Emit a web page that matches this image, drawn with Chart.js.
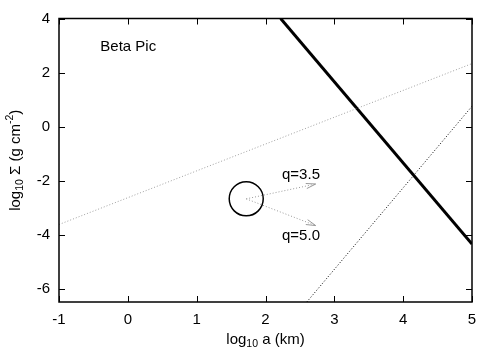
<!DOCTYPE html>
<html>
<head>
<meta charset="utf-8">
<script src="https://cdn.jsdelivr.net/npm/chart.js@4"></script>
<style>
  body { margin: 0; background: #fff; }
  #wrap { width: 498px; height: 349px; }
</style>
</head>
<body>
<div id="wrap"><canvas id="chart" width="498" height="349"></canvas></div>
<script>
// axis ticks
const xTicks = [-1, 0, 1, 2, 3, 4, 5];
const yTicks = [-6, -4, -2, 0, 2, 4];

// lines
const thickX = [2.22, 5];
const thickY = [4, -4.35];
const grayX = [-1, 5];
const grayY = [-3.63, 2.33];
const dotX = [2.6, 5];
const dotY = [-6.5, 0.75];

// circle and the two arrows leaving it
const circleX = [1.72];
const circleY = [-2.68];
const arrowLabels = ['q=3.5', 'q=5.0'];
const arrowEndX = [2.73, 2.73];
const arrowEndY = [-2.13, -3.67];

const FONT = '"Liberation Sans", Arial, sans-serif';

const pts = (xs, ys) => xs.map((x, i) => ({ x: x, y: ys[i] }));

const datasets = [
  { data: pts(grayX, grayY), borderColor: '#a0a0a0', borderWidth: 1, borderDash: [1, 2] },
  { data: pts(dotX, dotY), borderColor: '#000', borderWidth: 1, borderDash: [1, 2] },
  { data: pts(thickX, thickY), borderColor: '#000', borderWidth: 3 },
];
arrowEndX.forEach((ex, i) => {
  datasets.push({
    data: pts([circleX[0], ex], [circleY[0], arrowEndY[i]]),
    borderColor: '#999999', borderWidth: 1, borderDash: [1, 2]
  });
});
datasets.push({
  data: pts(circleX, circleY), showLine: false,
  pointRadius: 17, pointBorderWidth: 1.5, pointBorderColor: '#000',
  pointBackgroundColor: 'rgba(0,0,0,0)'
});

// draw text pieces with sub/superscripts, centred at (cx, cy)
function richText(ctx, parts, cx, cy, size) {
  let w = 0;
  parts.forEach(p => {
    ctx.font = (p.s ? size * 0.7 : size) + 'px ' + FONT;
    p.w = ctx.measureText(p.t).width;
    w += p.w;
  });
  let x = cx - w / 2;
  parts.forEach(p => {
    ctx.font = (p.s ? size * 0.7 : size) + 'px ' + FONT;
    ctx.fillText(p.t, x, cy + (p.s || 0));
    x += p.w;
  });
}

const decor = {
  id: 'decor',
  afterDatasetsDraw(chart) {
    const { ctx, chartArea: a, scales } = chart;
    const xs = scales.x, ys = scales.y;
    ctx.save();
    ctx.strokeStyle = '#000';
    ctx.lineWidth = 1.5;
    ctx.strokeRect(a.left, a.top, a.right - a.left, a.bottom - a.top);
    ctx.lineWidth = 1;
    ctx.beginPath();
    xTicks.forEach(v => {
      const px = Math.round(xs.getPixelForValue(v)) + 0.5;
      ctx.moveTo(px, a.bottom); ctx.lineTo(px, a.bottom - 6);
      ctx.moveTo(px, a.top); ctx.lineTo(px, a.top + 6);
    });
    yTicks.forEach(v => {
      const py = Math.round(ys.getPixelForValue(v)) + 0.5;
      ctx.moveTo(a.left, py); ctx.lineTo(a.left + 6, py);
      ctx.moveTo(a.right, py); ctx.lineTo(a.right - 6, py);
    });
    ctx.stroke();

    // arrow heads
    const cx = xs.getPixelForValue(circleX[0]), cy = ys.getPixelForValue(circleY[0]);
    ctx.strokeStyle = '#999999';
    arrowEndX.forEach((ex, i) => {
      const tx = xs.getPixelForValue(ex), ty = ys.getPixelForValue(arrowEndY[i]);
      const ang = Math.atan2(ty - cy, tx - cx);
      ctx.beginPath();
      [-0.26, 0.26].forEach(d => {
        ctx.moveTo(tx, ty);
        ctx.lineTo(tx - 10 * Math.cos(ang + d), ty - 10 * Math.sin(ang + d));
      });
      ctx.stroke();
    });

    // labels
    ctx.fillStyle = '#000';
    ctx.textBaseline = 'middle';
    ctx.textAlign = 'left';
    ctx.font = '15px ' + FONT;
    ctx.fillText('Beta Pic', xs.getPixelForValue(-0.4), ys.getPixelForValue(2.95));
    ctx.fillText(arrowLabels[0], xs.getPixelForValue(2.24), ys.getPixelForValue(-1.8));
    ctx.fillText(arrowLabels[1], xs.getPixelForValue(2.24), ys.getPixelForValue(-4.05));

    // axis titles
    richText(ctx, [{ t: 'log' }, { t: '10', s: 4 }, { t: ' a (km)' }], (a.left + a.right) / 2, 340, 15);
    ctx.translate(16, (a.top + a.bottom) / 2);
    ctx.rotate(-Math.PI / 2);
    richText(ctx, [{ t: 'log' }, { t: '10', s: 4 }, { t: ' \u03A3 (g cm' }, { t: '-2', s: -6 }, { t: ')' }], 0, 0, 15);
    ctx.restore();
  }
};

new Chart(document.getElementById('chart'), {
  type: 'scatter',
  data: { datasets: datasets },
  plugins: [decor],
  options: {
    responsive: false,
    animation: false,
    showLine: true,
    elements: { point: { radius: 0 }, line: { tension: 0 } },
    layout: { padding: { left: 0, top: 17, right: 26, bottom: 0 } },
    plugins: { legend: { display: false }, tooltip: { enabled: false } },
    scales: {
      x: {
        type: 'linear', min: -1, max: 5,
        afterBuildTicks: s => { s.ticks = xTicks.map(v => ({ value: v })); },
        afterFit: s => { s.height = 47; },
        grid: { display: false }, border: { display: false },
        ticks: { color: '#000', padding: 1, maxRotation: 0, font: { family: FONT, size: 15 } }
      },
      y: {
        type: 'linear', min: -6.5, max: 4,
        afterBuildTicks: s => { s.ticks = yTicks.map(v => ({ value: v })); },
        afterFit: s => { s.width = 59; },
        grid: { display: false }, border: { display: false },
        ticks: { color: '#000', padding: 1, font: { family: FONT, size: 15 } }
      }
    }
  }
});
</script>
</body>
</html>
